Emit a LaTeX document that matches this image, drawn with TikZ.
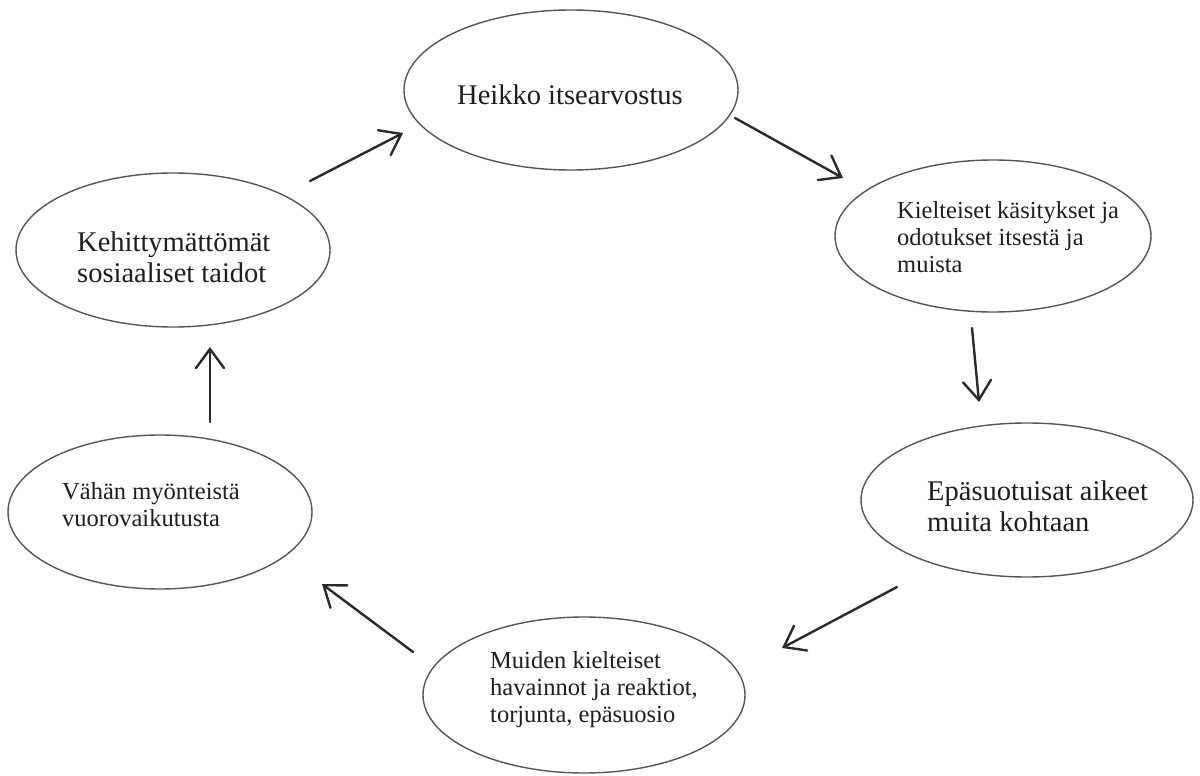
\documentclass[tikz,border=0pt]{standalone}
\usepackage{fontspec}
\setmainfont{Liberation Serif}
\usetikzlibrary{shapes.geometric,arrows.meta}
\definecolor{inkline}{HTML}{555555}
\definecolor{inkarrow}{HTML}{2A2A2A}
\definecolor{inktext}{HTML}{1E1E1E}
\tikzset{
  oval/.style={ellipse, draw=inkline, line width=1.4pt, inner sep=0pt},
  bigtxt/.style={anchor=west, inner sep=0pt, align=left, text=inktext, font=\fontsize{28.5}{31}\selectfont},
  smalltxt/.style={anchor=west, inner sep=0pt, align=left, text=inktext, font=\fontsize{24.5}{27}\selectfont},
  flow/.style={draw=inkarrow, line width=2.4pt, line cap=round, -{Straight Barb[length=19pt,width=28pt,line cap=round]}}
}
\begin{document}
\begin{tikzpicture}[x=1pt,y=-1pt]
\useasboundingbox[fill=white] (0,0) rectangle (1200,776);
% ellipses
\node[oval, minimum width=334pt, minimum height=160pt] (e1) at (571,90) {};
\node[oval, minimum width=316pt, minimum height=152pt] (e2) at (993,236) {};
\node[oval, minimum width=332pt, minimum height=154pt] (e3) at (1027,500) {};
\node[oval, minimum width=322pt, minimum height=156pt] (e4) at (584,695) {};
\node[oval, minimum width=304pt, minimum height=154pt] (e5) at (160,512) {};
\node[oval, minimum width=314pt, minimum height=154pt] (e6) at (173,250) {};
% texts
\node[bigtxt] (t1) at (457,95) {Heikko itsearvostus};
\node[smalltxt] (t2) at (897,237) {Kielteiset käsitykset ja\\odotukset itsestä ja\\muista};
\node[bigtxt] (t3) at (927,506) {Epäsuotuisat aikeet\\muita kohtaan};
\node[smalltxt] (t4) at (490,690) {Muiden kielteiset\\havainnot ja reaktiot,\\torjunta, epäsuosio};
\node[smalltxt] (t5) at (62,505) {Vähän myönteistä\\vuorovaikutusta};
\node[bigtxt] (t6) at (77,257) {Kehittymättömät\\sosiaaliset taidot};
% arrow end points
\coordinate (a1s) at (310,181);
\coordinate (a1e) at (403,133);
\coordinate (a2s) at (735,118);
\coordinate (a2e) at (843,178);
\coordinate (a3s) at (972,328);
\coordinate (a3e) at (979,402);
\coordinate (a4s) at (897,587);
\coordinate (a4e) at (782,648);
\coordinate (a5s) at (413,652);
\coordinate (a5e) at (322,584);
\coordinate (a6s) at (210,422);
\coordinate (a6e) at (210,347);
\draw[flow] (a1s) -- (a1e);
\draw[flow] (a2s) -- (a2e);
\draw[flow] (a3s) -- (a3e);
\draw[flow] (a4s) -- (a4e);
\draw[flow] (a5s) -- (a5e);
\draw[flow] (a6s) -- (a6e);
\end{tikzpicture}
\end{document}
